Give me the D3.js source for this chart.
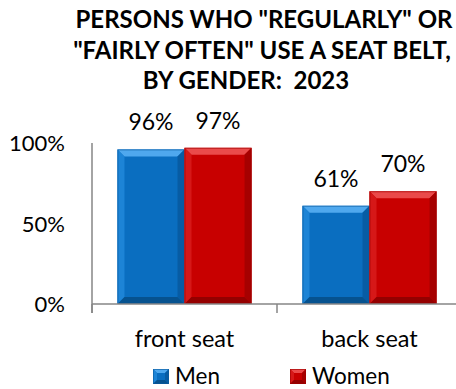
<!DOCTYPE html>
<html><head><meta charset="utf-8">
<script src="https://cdn.jsdelivr.net/npm/d3@7"></script>
<style>body{margin:0;background:#fff}svg{display:block}text{font-family:Lato,"Open Sans",sans-serif;fill:#000}</style>
</head><body>
<svg id="c" width="456" height="389"></svg>
<script>
const categories = ["front seat", "back seat"];
const seriesNames = ["Men", "Women"];
const men = [0.96, 0.61];
const women = [0.97, 0.70];
const yTicks = [0, 0.5, 1];
const titleLines = ['PERSONS WHO "REGULARLY" OR', '"FAIRLY OFTEN" USE A SEAT BELT,', 'BY GENDER:  2023'];

const colors = {
  Men:   {main:"#0A6EC0", top:"#4FA8EE", left:"#1D84D6", right:"#075CA4", bottom:"#06528F", stroke:"#0A5A9C"},
  Women: {main:"#C80000", top:"#EA4A4A", left:"#D61818", right:"#A60000", bottom:"#940000", stroke:"#9E0000"}
};

const svg = d3.select("#c");
const y = d3.scaleLinear().domain([0,1]).range([304,143]);
const x = d3.scaleBand().domain(categories).range([92,462]).paddingInner(0).paddingOuter(0);
const xs = d3.scaleBand().domain(seriesNames).range([0, x.bandwidth()]).paddingOuter(0.38).paddingInner(0);

// title
const title = svg.append("text").attr("text-anchor","middle").style("font-weight","bold").style("font-size","24px");
const titleX = [264, 262, 246];
titleLines.forEach((t,i)=>title.append("tspan").attr("x",titleX[i]).attr("y",28+i*30.5).attr("xml:space","preserve").style("white-space","pre").text(t));

// y axis labels
const yAxis = d3.axisLeft(y).tickValues(yTicks).tickFormat(d3.format(".0%")).tickSize(0).tickPadding(27);
const gy = svg.append("g").attr("transform","translate(92,0)").call(yAxis);
gy.select(".domain").remove();
gy.selectAll("text").style("font-size","22px").style("font-family","Lato").attr("fill","#000").attr("dy","0.35em");

function bevel(g, x0, y0, w, h, c, bb){
  const b = Math.min(bb||7, h/2);
  g.append("rect").attr("x",x0).attr("y",y0).attr("width",w).attr("height",h).attr("fill",c.main);
  const P = (pts,f)=>g.append("polygon").attr("points",pts.map(p=>p.join(",")).join(" ")).attr("fill",f);
  P([[x0,y0],[x0+w,y0],[x0+w-b,y0+b],[x0+b,y0+b]], c.top);
  P([[x0,y0],[x0+b,y0+b],[x0+b,y0+h-b],[x0,y0+h]], c.left);
  P([[x0+w,y0],[x0+w,y0+h],[x0+w-b,y0+h-b],[x0+w-b,y0+b]], c.right);
  P([[x0,y0+h],[x0+b,y0+h-b],[x0+w-b,y0+h-b],[x0+w,y0+h]], c.bottom);
  g.append("rect").attr("x",x0+0.5).attr("y",y0+0.5).attr("width",w-1).attr("height",h-1).attr("fill","none").attr("stroke",c.stroke).attr("stroke-width",1).attr("opacity",0.6);
}

const data = [];
categories.forEach((cat,i)=>{ data.push({cat, s:"Men", v:men[i]}); data.push({cat, s:"Women", v:women[i]}); });

const bars = svg.append("g");
data.forEach(d=>{
  const x0 = x(d.cat)+xs(d.s);
  bevel(bars, x0, y(d.v), xs.bandwidth(), y(0)-y(d.v), colors[d.s]);
  svg.append("text").attr("x", x0+xs.bandwidth()/2).attr("y", y(d.v)-19)
    .attr("text-anchor","middle").style("font-size","23px").text(d3.format(".0%")(d.v));
});

// axes lines
svg.append("line").attr("x1",92).attr("x2",92).attr("y1",143).attr("y2",313).attr("stroke","#868686").attr("stroke-width",1.5);
svg.append("line").attr("x1",92).attr("x2",462).attr("y1",y(0)).attr("y2",y(0)).attr("stroke","#868686").attr("stroke-width",1.5);
const xAxis = d3.axisBottom(x).tickSize(0).tickPadding(0);
const gx = svg.append("g").attr("transform",`translate(0,${y(0)})`).call(xAxis);
gx.select(".domain").remove();
gx.selectAll("text").style("font-size","23.5px").style("font-family","Lato").attr("fill","#000").attr("y",43).attr("dy",0);
[92, 92+x.step(), 92+2*x.step()].forEach(px=>svg.append("line").attr("x1",px).attr("x2",px).attr("y1",y(0)).attr("y2",313).attr("stroke","#868686").attr("stroke-width",1.5));

// legend
const legendX = [153, 290];
seriesNames.forEach((s,i)=>{
  const g = svg.append("g");
  bevel(g, legendX[i], 369, 16, 15, colors[s], 4);
  svg.append("text").attr("x", legendX[i]+22).attr("y", 384).style("font-size","22.5px").text(s);
});
</script>
</body></html>
